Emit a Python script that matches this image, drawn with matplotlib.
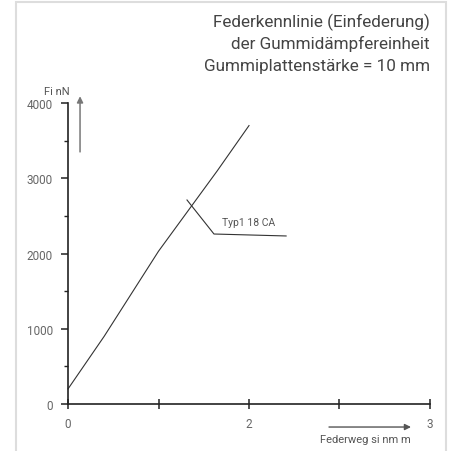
import matplotlib
matplotlib.use("Agg")
import matplotlib.pyplot as plt
from matplotlib.patches import Rectangle

plt.rcParams['font.family'] = ['Roboto', 'DejaVu Sans']

# data (x in tick units of the drawn scale, y in N)
curve_x = [0.0, 0.4, 1.0, 1.65, 2.0]
curve_y = [200, 900, 2030, 3100, 3700]

x_tick_pos = [0, 1, 2, 3, 4]
x_tick_labels = ["0", "", "2", "", "3"]
y_major = [0, 1000, 2000, 3000, 4000]
y_minor = [500, 1500, 2500, 3500]

leader_x = [1.315, 1.613, 2.41]
leader_y = [2711, 2259, 2233]
label_text = "Typ1 18 CA"

title_lines = ["Federkennlinie (Einfederung)", "der Gummidämpfereinheit",
               "Gummiplattenstärke = 10 mm"]

W = 452
fig = plt.figure(figsize=(4.52, 4.52), dpi=100)
fig.patch.set_facecolor('white')
fig.patches.append(Rectangle((16 / W, -0.05), (446 - 16) / W, (452 - 3) / W + 0.05,
                             transform=fig.transFigure, fill=False,
                             edgecolor='#dddddd', linewidth=1.5))

ax = fig.add_axes([68 / W, 47 / W, 362 / W, 301 / W])
ax.set_xlim(0, 4)
ax.set_ylim(0, 4000)
for s in ['top', 'right']:
    ax.spines[s].set_visible(False)
for s in ['left', 'bottom']:
    ax.spines[s].set_linewidth(1.2)
    ax.spines[s].set_color('#222222')

ax.plot(curve_x, curve_y, color='#333333', lw=0.8, clip_on=False)
ax.plot(leader_x, leader_y, color='#333333', lw=0.8, clip_on=False)
ax.text(1.70, 2420, label_text, fontsize=7.5, color='#555555', ha='left',
        va='center')

ax.set_xticks(x_tick_pos)
ax.set_xticklabels(x_tick_labels)
ax.set_yticks(y_major)
ax.set_yticklabels([str(v) for v in y_major])
ax.set_yticks(y_minor, minor=True)
ax.tick_params(axis='x', direction='inout', length=7, width=1.1, color='#222222',
               labelsize=8.5, labelcolor='#666666', pad=6)
ax.tick_params(axis='y', which='major', direction='out', length=5, width=1.1,
               color='#222222', labelsize=8.5, labelcolor='#666666', pad=6)
ax.tick_params(axis='y', which='minor', direction='out', length=3, width=1.0,
               color='#222222')

# axis arrows
ax.annotate('', xy=(0.133, 4090), xytext=(0.133, 3350), xycoords='data',
            annotation_clip=False,
            arrowprops=dict(arrowstyle='-|>', color='#777777', lw=1.1,
                            mutation_scale=9, shrinkA=0, shrinkB=0))
ax.annotate('', xy=(3.79, -306), xytext=(2.884, -306), xycoords='data',
            annotation_clip=False,
            arrowprops=dict(arrowstyle='-|>', color='#555555', lw=1.0,
                            mutation_scale=9, shrinkA=0, shrinkB=0))

ax.text(3.29, -470, "Federweg si nm m", fontsize=8, color='#555555',
        ha='center', va='center', clip_on=False)
fig.text(57 / W, 1 - 92 / W, "Fi nN", fontsize=8, color='#555555',
         ha='center', va='center')

for i, (t, yc) in enumerate(zip(title_lines, [22, 44, 66])):
    fig.text(430 / W, 1 - yc / W, t, fontsize=12.3, color='#444444',
             ha='right', va='center')

fig.savefig('out.png', dpi=100, facecolor='white')
